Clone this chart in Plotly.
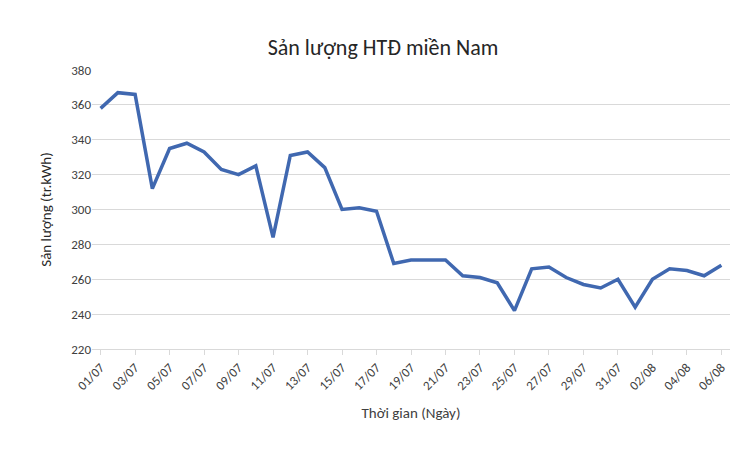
import plotly.graph_objects as go

days = [f"{d:02d}/07" for d in range(1, 32)] + [f"{d:02d}/08" for d in range(1, 7)]
output = [358, 367, 366, 312, 335, 338, 333, 323, 320, 325, 284, 331, 333, 324,
          300, 301, 299, 269, 271, 271, 271, 262, 261, 258, 242, 266, 267, 261,
          257, 255, 260, 244, 260, 266, 265, 262, 268]

font = "Calibri, Carlito, 'Open Sans', sans-serif"

fig = go.Figure(go.Scatter(
    x=days, y=output, mode="lines",
    line=dict(color="#4068B0", width=3.5),
))

fig.update_layout(
    width=750, height=453,
    paper_bgcolor="white", plot_bgcolor="white",
    margin=dict(l=84, r=28, t=62, b=112),
    title=dict(text="Sản lượng HTĐ miền Nam", x=0.5, y=0.93,
               font=dict(family=font, size=22, color="#262626")),
    showlegend=False,
    font=dict(family=font, color="#404040", size=13),
)
fig.update_xaxes(
    tickmode="array", tickvals=days[::2], ticktext=days[::2], tickangle=-45,
    showgrid=False, showline=True, linecolor="#d9d9d9",
    ticks="outside", ticklen=5, tickcolor="#d9d9d9",
    title=dict(text="Thời gian (Ngày)", font=dict(size=15, color="#404040")),
    range=[-0.5, len(days) - 0.5],
)
fig.update_yaxes(
    range=[220, 380], dtick=20, showgrid=True, gridcolor="#d9d9d9",
    zeroline=False, showline=False,
    title=dict(text="Sản lượng (tr.kWh)", font=dict(size=15, color="#262626")),
)

fig.write_html("out.html")
